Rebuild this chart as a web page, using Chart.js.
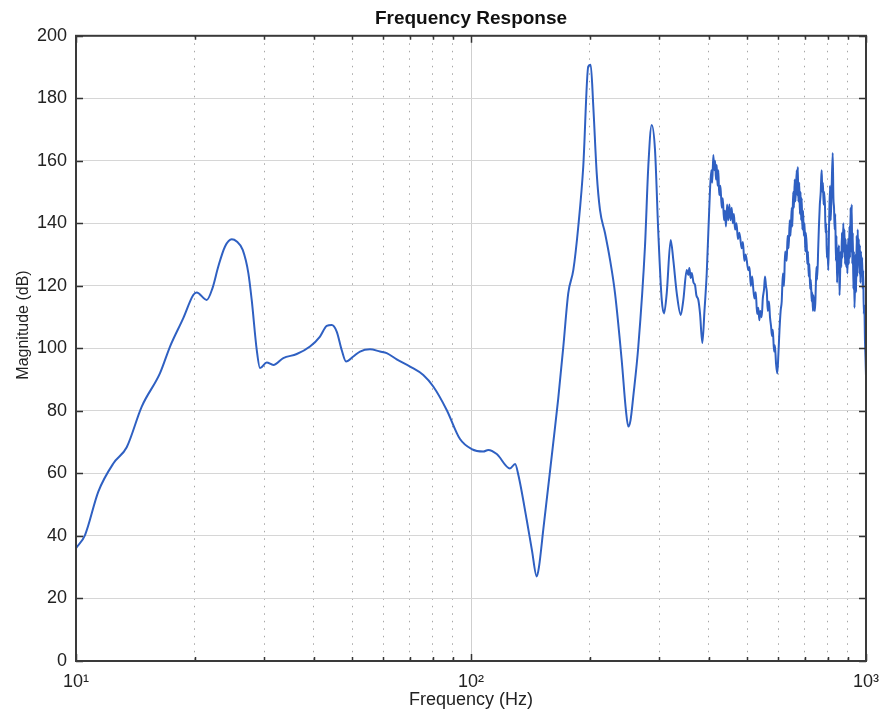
<!DOCTYPE html>
<html>
<head>
<meta charset="utf-8">
<script src="https://cdn.jsdelivr.net/npm/chart.js@4.4.1/dist/chart.umd.min.js"></script>
<style>
  html, body { margin: 0; padding: 0; background: #fff; }
  canvas { display: block; }
</style>
</head>
<body>
<canvas id="chart" width="882" height="709"></canvas>
<script>
// frequency points (Hz)
const freqHz = [
  10.0, 10.54, 11.39, 12.43, 13.44, 14.67, 16.32, 17.30, 18.69, 19.81,
  20.21, 21.42, 22.16, 22.92, 23.84, 24.79, 25.52, 26.43, 27.31, 27.85,
  28.68, 29.23, 30.40, 31.59, 33.48, 36.21, 39.12, 41.47, 43.13, 44.40,
  45.71, 47.06, 48.26, 50.35, 52.36, 55.50, 58.84, 61.18, 64.85, 70.10,
  75.72, 80.26, 86.79, 93.79, 100.4, 107.4, 110.6, 116.2, 125.5, 129.3,
  131.8, 138.4, 142.7, 146.7, 148.6, 152.4, 156.6, 161.6, 166.3, 171.3,
  176.3, 181.6, 186.9, 192.4, 198.1, 200.9, 204.0, 208.1, 212.1, 218.4,
  224.9, 231.5, 240.7, 246.8, 250.2, 253.4, 257.5, 265.2, 275.7, 281.1,
  286.7, 292.3, 298.0, 304.0, 308.1, 313.0, 320.3, 325.2, 331.8, 339.6,
  344.8, 351.7, 355, 357.1, 360, 362.1, 366, 369.1, 372, 376.3,
  380.0, 385.2, 390, 395.2, 402.8, 406, 408, 410.7, 413, 415,
  417, 418.9, 421, 422.8, 425, 428, 431.3, 434, 437, 439.6,
  442, 445, 448, 451, 454, 457.1, 460, 463, 466, 470,
  474, 478, 484.5, 488, 492, 496, 503.5, 507, 511, 515,
  518.4, 522, 526, 530, 533.7, 537, 540, 544.4, 548, 552,
  555, 558.2, 561, 564, 568, 571.4, 575, 578, 581, 584.9,
  588, 592, 596.2, 600, 604, 608, 611.8, 616, 620, 624,
  629.9, 633, 637, 641, 644, 648.5, 651, 654, 657, 660,
  663, 667.7, 670, 672, 674, 677.9, 680, 683, 685, 687.5,
  690, 693, 696, 699, 702, 704, 707.8, 710, 713, 716,
  719, 722, 725, 728.7, 731, 734, 736, 739, 742.9, 746,
  749, 752, 757.3, 760, 764, 768, 770, 772.5, 775, 778,
  781, 784, 787.5, 790, 793, 796, 799, 802.8, 806, 810.8,
  814, 818, 823.7, 827, 830, 833, 836, 839, 842, 845,
  848, 851, 854, 857, 860, 863, 866, 869, 872, 876.2,
  879, 882, 885, 888, 891, 894, 897, 900, 902.1, 905,
  908, 911, 914, 917, 920.2, 923, 926, 929, 932, 935,
  938.1, 941, 944, 947, 950, 953, 956.2, 959, 962, 965,
  968, 971, 975.2, 978, 981, 984, 987, 990, 994.2, 997,
  1000
];

// magnitude (dB) at each frequency point
const magnitudeDb = [
  36.1, 40.3, 54.2, 63.2, 68.4, 81.4, 92.1, 100.6, 109.7, 117.1,
  117.9, 115.5, 119.3, 126.2, 132.6, 134.9, 134.2, 131.5, 124.1, 115.5,
  99.5, 93.7, 95.5, 94.7, 96.9, 98.2, 100.6, 103.8, 107.2, 107.5,
  105.4, 99.5, 95.8, 97.4, 99.0, 99.7, 99.0, 98.5, 96.5, 94.2,
  91.5, 87.8, 80.3, 71.0, 67.8, 67.0, 67.5, 66.2, 61.6, 63.0,
  59.5, 45.1, 35.3, 27.0, 30, 42, 55, 70, 84, 100.6,
  117.7, 125.1, 139.0, 158.2, 190.2, 190.7, 177.4, 156.0, 144.3, 136.9,
  128.3, 117.7, 96.3, 80, 75.0, 77, 84.6, 100.6, 132.6, 158.2,
  171.5, 163.5, 136.9, 115.5, 111.2, 117.7, 134.7, 128.3, 117.7, 110.7,
  115.5, 125.1, 123.5, 125.7, 122.5, 124.1, 121, 120.3, 117, 115.5,
  111.2, 101.7, 112, 124.1, 150.7, 157, 153, 161.9, 157, 160,
  154, 158.7, 152, 157, 149, 152, 145, 148, 141, 144,
  139, 146, 141, 146, 141, 145, 140, 143, 138, 140,
  135, 137, 132, 134, 128, 130, 125, 126, 120, 123,
  119, 116, 118, 111, 113, 109, 112, 110, 116, 119,
  123, 120, 118, 112, 115, 110, 107, 104, 106, 99,
  101, 95, 92, 98, 106, 112, 115, 124, 120, 131,
  128, 136, 132, 141, 136, 145, 139, 150, 145, 154,
  147, 157, 149, 158, 147, 153, 143, 150, 141, 148,
  138, 144, 136, 140, 131, 137, 133, 127, 131, 123,
  127, 119, 122, 115, 118, 112, 117, 113, 112, 119,
  126, 122, 133, 139, 146, 150, 154, 157, 150, 153,
  146, 150, 145, 137, 140, 129, 132, 125, 138, 152,
  141, 150, 162.5, 148, 145, 138, 143, 128, 136, 121,
  132, 126, 133, 117, 124, 131, 126, 137, 129, 140,
  131, 138, 127, 135, 126, 133, 124, 131, 135, 127,
  139, 129, 145, 131, 146, 127, 137, 119, 131, 113,
  121, 130, 118, 136, 123, 138, 127, 135, 124, 133,
  121, 131, 124, 129, 119, 125, 111, 114, 102, 97,
  91
];

const xTickValues = [10, 20, 30, 40, 50, 60, 70, 80, 90, 100,
  200, 300, 400, 500, 600, 700, 800, 900, 1000];
const xMajorTicks = [10, 100, 1000];
const xTickLabels = ['10¹', '10²', '10³'];
const yTickValues = [0, 20, 40, 60, 80, 100, 120, 140, 160, 180, 200];

const chartTitle = 'Frequency Response';
const xTitle = 'Frequency (Hz)';
const yTitle = 'Magnitude (dB)';

const FONT = '"Liberation Sans", Arial, Helvetica, sans-serif';

// box around the plot, inward tick marks and the y title
const framePlugin = {
  id: 'frame',
  afterDatasetsDraw(chart) {
    const { ctx, chartArea: a, scales: { x, y } } = chart;
    ctx.save();
    ctx.strokeStyle = '#333';
    ctx.lineWidth = 1.5;
    ctx.beginPath();
    xTickValues.forEach(v => {
      const px = Math.round(x.getPixelForValue(v)) + 0.5;
      const len = xMajorTicks.includes(v) ? 7 : 4;
      ctx.moveTo(px, a.bottom);
      ctx.lineTo(px, a.bottom - len);
      ctx.moveTo(px, a.top);
      ctx.lineTo(px, a.top + len);
    });
    yTickValues.forEach(v => {
      const py = Math.round(y.getPixelForValue(v)) + 0.5;
      ctx.moveTo(a.left, py);
      ctx.lineTo(a.left + 7, py);
      ctx.moveTo(a.right, py);
      ctx.lineTo(a.right - 7, py);
    });
    ctx.stroke();

    ctx.strokeStyle = '#3a3a3a';
    ctx.lineWidth = 2;
    ctx.strokeRect(a.left, a.top, a.right - a.left, a.bottom - a.top);

    ctx.fillStyle = '#222';
    ctx.font = '16px ' + FONT;
    ctx.textAlign = 'center';
    ctx.textBaseline = 'middle';
    ctx.translate(24, 325);
    ctx.rotate(-Math.PI / 2);
    ctx.fillText(yTitle, 0, 0);
    ctx.restore();
  }
};

const points = freqHz.map((f, i) => ({ x: f, y: magnitudeDb[i] }));

new Chart(document.getElementById('chart'), {
  type: 'line',
  data: {
    datasets: [{
      data: points,
      borderColor: '#2f60c2',
      borderWidth: 2,
      pointRadius: 0,
      fill: false,
      cubicInterpolationMode: 'monotone'
    }]
  },
  options: {
    responsive: false,
    animation: false,
    devicePixelRatio: 1,
    layout: { padding: { left: 0, right: 16, top: 0, bottom: 0 } },
    plugins: {
      legend: { display: false },
      tooltip: { enabled: false },
      title: {
        display: true,
        fullSize: false,
        text: chartTitle,
        color: '#111',
        font: { family: FONT, size: 19, weight: 'bold', lineHeight: 1.2 },
        padding: { top: 7, bottom: 6 }
      }
    },
    scales: {
      x: {
        type: 'logarithmic',
        min: 10,
        max: 1000,
        afterBuildTicks(scale) {
          scale.ticks = xTickValues.map(v => ({ value: v, major: xMajorTicks.includes(v) }));
        },
        afterFit(scale) {
          scale.height = 48;
          scale.paddingLeft = 0;
          scale.paddingRight = 0;
        },
        ticks: {
          autoSkip: false,
          maxRotation: 0,
          padding: 10,
          color: '#222',
          font: { family: FONT, size: 18 },
          callback: v => {
            const i = xMajorTicks.indexOf(v);
            return i >= 0 ? xTickLabels[i] : '';
          }
        },
        grid: {
          drawTicks: false,
          lineWidth: 1,
          color: ctx => (ctx.tick && ctx.tick.value === 100) ? '#cfcfcf' : '#a6a6a6'
        },
        border: {
          display: false,
          dash: ctx => (ctx.tick && ctx.tick.value !== 100) ? [1.5, 6] : []
        },
        title: {
          display: true,
          text: xTitle,
          color: '#222',
          font: { family: FONT, size: 18, lineHeight: 1 },
          padding: 0
        }
      },
      y: {
        min: 0,
        max: 200,
        afterBuildTicks(scale) {
          scale.ticks = yTickValues.map(v => ({ value: v }));
        },
        afterFit(scale) { scale.width = 76; },
        ticks: {
          padding: 9,
          color: '#222',
          font: { family: FONT, size: 18 }
        },
        grid: {
          drawTicks: false,
          lineWidth: 1,
          color: '#d6d6d6'
        },
        border: { display: false }
      }
    }
  },
  plugins: [framePlugin]
});
</script>
</body>
</html>
